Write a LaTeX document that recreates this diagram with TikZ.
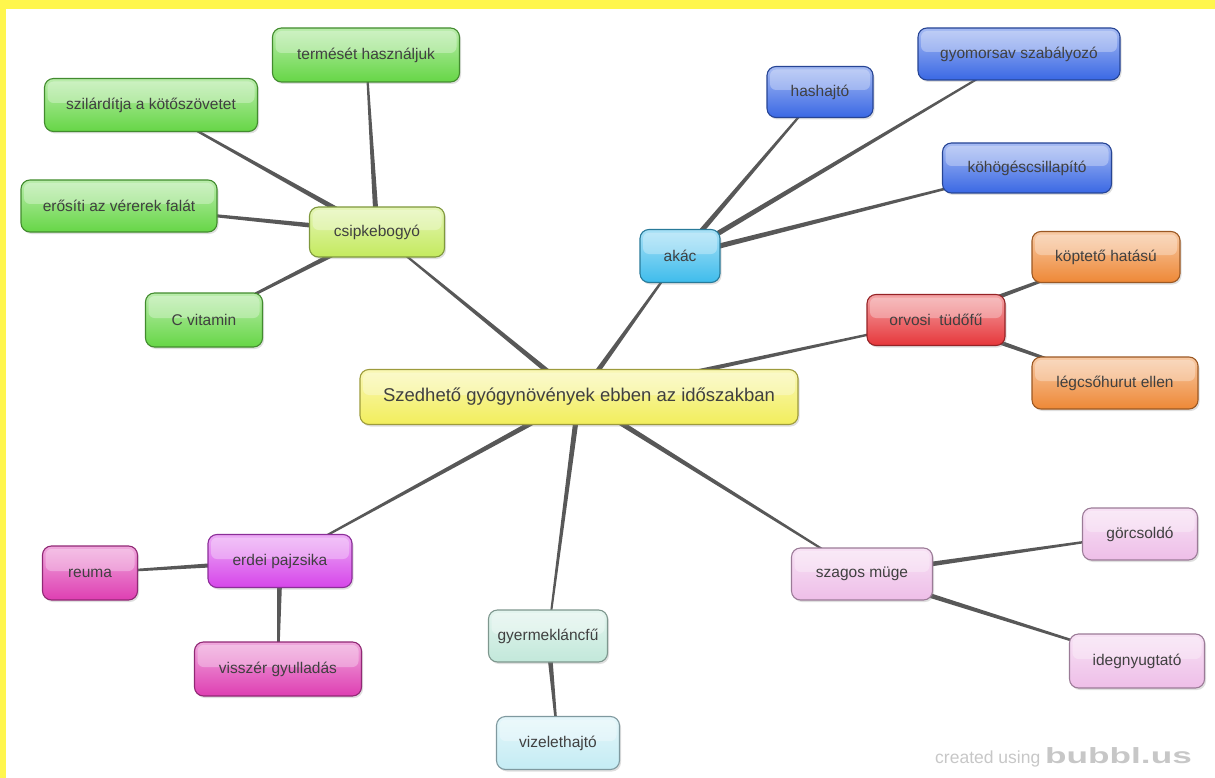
\documentclass[tikz,border=0pt]{standalone}
\usepackage{fontspec}
\setmainfont{Liberation Sans}
\usetikzlibrary{calc,shadows,backgrounds}

\definecolor{rootc}{HTML}{F2EE5C}
\definecolor{csipc}{HTML}{C4EA5E}
\definecolor{grnc}{HTML}{66D646}
\definecolor{akacc}{HTML}{3EBCEC}
\definecolor{bluec}{HTML}{3A68E4}
\definecolor{redc}{HTML}{E6363A}
\definecolor{orgc}{HTML}{EE8836}
\definecolor{purc}{HTML}{D646EA}
\definecolor{pinkc}{HTML}{DE3EB2}
\definecolor{mintc}{HTML}{C2E8DA}
\definecolor{cyanc}{HTML}{C4ECF4}
\definecolor{lilac}{HTML}{EEBEE8}
\definecolor{twigc}{HTML}{585858}

\newcommand{\twig}[2]{%
  \fill[twigc] ($(#1)!2.8pt!90:(#2)$) -- ($(#2)!0.8pt!-90:(#1)$)
    -- ($(#2)!0.8pt!90:(#1)$) -- ($(#1)!2.8pt!-90:(#2)$) -- cycle;}

\begin{document}
\begin{tikzpicture}
[   x=1pt,y=-1pt,
    bnode/.style={draw=#1!65!black,line width=1.1pt,rounded corners=9pt,
        top color=#1!45!white,bottom color=#1,text=black!75,
        font=\fontsize{15.5}{18}\selectfont,
        drop shadow={shadow xshift=1.5pt,shadow yshift=-2pt,opacity=0.25},
        path picture={\fill[white,opacity=0.3,rounded corners=6pt]
            ([xshift=3pt,yshift=-3pt]path picture bounding box.north west)
            rectangle ([xshift=-3pt,yshift=2pt]path picture bounding box.east);}},
    sz/.style 2 args={minimum width=#1pt,minimum height=#2pt,inner sep=0pt},
]
    \useasboundingbox (0,0) rectangle (1215,778);
    \fill[yellow!70] (0,0) rectangle (1215,9);
    \fill[yellow!70] (0,0) rectangle (6,778);

    \node[bnode=rootc,sz={438}{55},font=\fontsize{18.5}{22}\selectfont] (root) at (579,397)
        {Szedhető gyógynövények ebben az időszakban};

    \node[bnode=csipc,sz={135}{50}] (csipke) at (377,232) {csipkebogyó};
    \node[bnode=grnc,sz={187}{54}] (termes) at (366,55) {termését használjuk};
    \node[bnode=grnc,sz={213}{53}] (szilard) at (151,105) {szilárdítja a kötőszövetet};
    \node[bnode=grnc,sz={196}{52}] (erosit) at (119,206) {erősíti az vérerek falát};
    \node[bnode=grnc,sz={117}{54}] (cvit) at (204,320) {C vitamin};

    \node[bnode=akacc,sz={80}{53}] (akac) at (680,256) {akác};
    \node[bnode=bluec,sz={106}{51}] (hashajto) at (820,92) {hashajtó};
    \node[bnode=bluec,sz={202}{52}] (gyomor) at (1019,54) {gyomorsav szabályozó};
    \node[bnode=bluec,sz={169}{50}] (kohoges) at (1027,168) {köhögéscsillapító};

    \node[bnode=redc,sz={138}{51}] (orvosi) at (936,320) {orvosi\ \ tüdőfű};
    \node[bnode=orgc,sz={148}{51}] (koptet) at (1106,257) {köptető hatású};
    \node[bnode=orgc,sz={166}{52}] (legcso) at (1115,383) {légcsőhurut ellen};

    \node[bnode=purc,sz={144}{53}] (erdei) at (280,561) {erdei pajzsika};
    \node[bnode=pinkc,sz={95}{54}] (reuma) at (90,573) {reuma};
    \node[bnode=pinkc,sz={167}{54}] (visszer) at (278,669) {visszér gyulladás};

    \node[bnode=mintc,sz={119}{52}] (gyermek) at (548,636) {gyermekláncfű};
    \node[bnode=cyanc,sz={123}{53}] (vizelet) at (558,743) {vizelethajtó};

    \node[bnode=lilac,sz={141}{52}] (szagos) at (862,574) {szagos müge};
    \node[bnode=lilac,sz={115}{52}] (gorcs) at (1140,534) {görcsoldó};
    \node[bnode=lilac,sz={135}{54}] (ideg) at (1137,661) {idegnyugtató};

    \node[anchor=east,text=black!22,inner sep=0pt] (credit) at (1192,757)
        {\fontsize{17.5}{20}\selectfont created using\
         \fontsize{22}{22}\selectfont\bfseries\scalebox{1.6}[1]{bubbl.us}};

    \begin{scope}[on background layer]
        \foreach \a/\b in {root/csipke,root/akac,root/orvosi,root/erdei,
            root/gyermek,root/szagos,csipke/termes,csipke/szilard,
            csipke/erosit,csipke/cvit,akac/hashajto,akac/gyomor,
            akac/kohoges,orvosi/koptet,orvosi/legcso,erdei/reuma,
            erdei/visszer,gyermek/vizelet,szagos/gorcs,szagos/ideg}
        {   \twig{\a}{\b}
        }
    \end{scope}
\end{tikzpicture}
\end{document}
